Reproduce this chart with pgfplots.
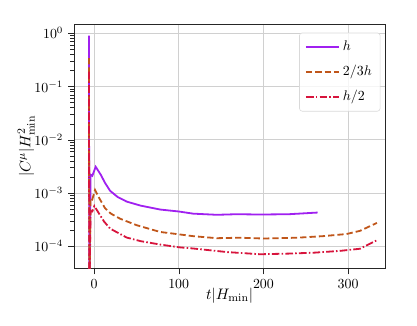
\documentclass[border=0pt]{standalone}
\usepackage{pgfplots}
\pgfplotsset{compat=1.18}
\definecolor{cH}{HTML}{A020F0}
\definecolor{cTwo}{HTML}{C0561A}
\definecolor{cHalf}{HTML}{D7143C}
\definecolor{gridc}{HTML}{D0D0D0}
\begin{document}
\begin{tikzpicture}
\useasboundingbox (-53.3pt,-41pt) rectangle (247pt,193.3pt);
\begin{axis}[
    at={(0,0)}, anchor=south west,
    scale only axis,
    width=224pt, height=176pt,
    ymode=log,
    xmin=-23.6, xmax=343.6,
    ymin=3.85e-5, ymax=1.48,
    xtick={0,100,200,300},
    ytick={1e-4,1e-3,1e-2,1e-1,1},
    tick align=outside,
    xtick pos=bottom, ytick pos=left,
    grid=major,
    grid style={gridc, line width=0.5pt},
    axis line style={black!85},
    tick style={black!85},
    xlabel={$t|H_{\min}|$},
    ylabel={$|C^{\mu}|H^2_{\min}$},
    label style={font=\fontsize{11}{13}\selectfont},
    xlabel style={yshift=7pt},
    ylabel style={yshift=-7pt},
    legend style={at={(0.985,0.965)}, anchor=north east, draw=black!15, rounded corners=2pt, fill=white, fill opacity=0.8, text opacity=1, row sep=5pt, inner sep=4pt},
    legend cell align=left,
    legend image code/.code={\draw[#1] (0pt,0pt) -- (24pt,0pt);},
]
\addplot[cH, line width=1.3pt] coordinates {
(-6,0.9) (-5.5,1e-5) (-4,2.2e-3) (-2,2.1e-3) (2,3.1e-3) (8,2.2e-3) (13,1.55e-3) (19,1.1e-3)
(28,8.4e-4) (38.6,6.9e-4) (55,5.8e-4) (78,4.9e-4) (100,4.5e-4) (117,4.1e-4)
(145,3.9e-4) (168,4.0e-4) (196,3.95e-4) (230,4.0e-4) (264,4.3e-4)};
\addlegendentry{$h$}
\addplot[cTwo, line width=1.3pt, dash pattern=on 4.5pt off 2.2pt] coordinates {
(-6,0.34) (-5.5,1e-5) (-4,8e-4) (-2,7.6e-4) (1.2,1.14e-3) (7,7.6e-4) (13,5.2e-4) (20,4.1e-4)
(30.7,3.3e-4) (50,2.5e-4) (78,1.86e-4) (100,1.68e-4) (117,1.55e-4) (145,1.42e-4)
(172,1.45e-4) (200,1.4e-4) (240,1.45e-4) (270,1.55e-4) (298,1.7e-4) (314,1.95e-4) (334,2.75e-4)};
\addlegendentry{$2/3h$}
\addplot[cHalf, line width=1.3pt, dash pattern=on 5.5pt off 1.6pt on 1.1pt off 1.6pt] coordinates {
(-6,0.19) (-5.5,1e-5) (-4,4.6e-4) (-2,4.5e-4) (0.4,5.7e-4) (6,4.1e-4) (12,2.9e-4) (19,2.15e-4)
(38.6,1.46e-4) (55,1.25e-4) (78,1.08e-4) (100,9.6e-5) (117,9.1e-5) (157,7.8e-5)
(196,7.1e-5) (230,7.3e-5) (260,7.6e-5) (290,8.2e-5) (314,9e-5) (334,1.3e-4)};
\addlegendentry{$h/2$}
\end{axis}
\end{tikzpicture}
\end{document}
